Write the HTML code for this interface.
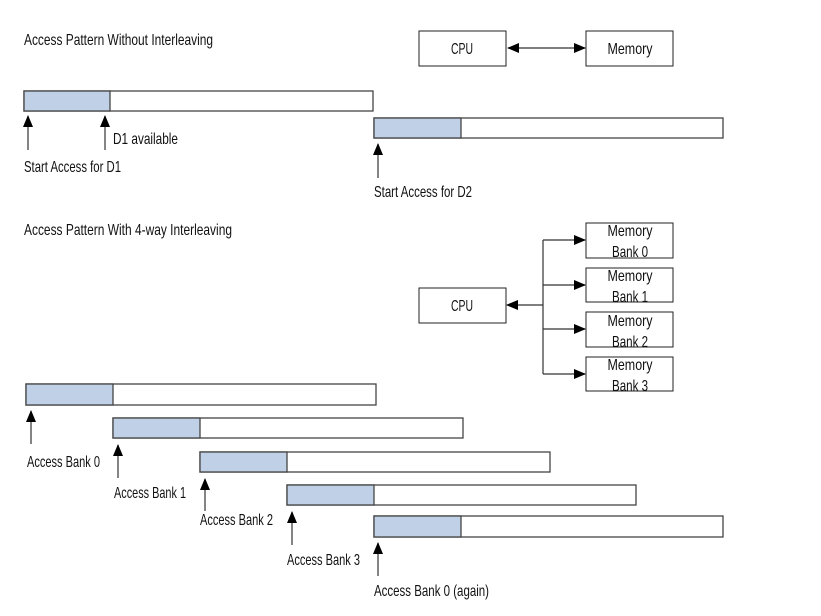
<!DOCTYPE html>
<html><head><meta charset="utf-8"><style>body{margin:0;background:#fff}svg{display:block}text{font-family:"Liberation Sans",sans-serif;font-size:16px;fill:#111}</style></head><body>
<svg width="821" height="616" xmlns="http://www.w3.org/2000/svg">
<defs><marker id="a" markerWidth="12" markerHeight="10" refX="11" refY="5" orient="auto" markerUnits="userSpaceOnUse"><path d="M0,0 L12,5 L0,10 z" fill="#000"/></marker></defs>
<g stroke="#444" stroke-width="1.3">
<rect x="24" y="91" width="349" height="20" fill="#fff"/><rect x="24" y="91" width="86" height="20" fill="#c0d0e6"/>
<rect x="374" y="118" width="349" height="20" fill="#fff"/><rect x="374" y="118" width="87" height="20" fill="#c0d0e6"/>
<rect x="26" y="384" width="350" height="21" fill="#fff"/><rect x="26" y="384" width="87" height="21" fill="#c0d0e6"/>
<rect x="113" y="418" width="350" height="20" fill="#fff"/><rect x="113" y="418" width="87" height="20" fill="#c0d0e6"/>
<rect x="200" y="452" width="350" height="20" fill="#fff"/><rect x="200" y="452" width="87" height="20" fill="#c0d0e6"/>
<rect x="287" y="485" width="349" height="20" fill="#fff"/><rect x="287" y="485" width="87" height="20" fill="#c0d0e6"/>
<rect x="374" y="516" width="349" height="21" fill="#fff"/><rect x="374" y="516" width="87" height="21" fill="#c0d0e6"/>
</g>
<g stroke="#222" stroke-width="1" fill="#fff">
<rect x="419" y="31" width="87" height="35"/><rect x="586" y="31" width="87" height="35"/>
<rect x="419" y="288" width="87" height="35"/>
<rect x="586" y="223" width="87" height="35"/><rect x="586" y="268" width="87" height="34"/>
<rect x="586" y="312" width="87" height="35"/><rect x="586" y="357" width="87" height="34"/>
</g>
<g stroke="#333" stroke-width="1.2" fill="none" marker-end="url(#a)">
<line x1="28" y1="150" x2="28" y2="116"/><line x1="105" y1="150" x2="105" y2="116"/>
<line x1="378" y1="178" x2="378" y2="144"/>
<line x1="31" y1="444" x2="31" y2="411"/><line x1="118" y1="478" x2="118" y2="445"/>
<line x1="205" y1="511" x2="205" y2="479"/><line x1="292" y1="545" x2="292" y2="512"/>
<line x1="378" y1="576" x2="378" y2="543"/>
<line x1="545" y1="48" x2="508" y2="48"/><line x1="545" y1="48" x2="585" y2="48"/>
<line x1="543" y1="305" x2="507" y2="305"/>
<line x1="543" y1="240" x2="585" y2="240"/><line x1="543" y1="285" x2="585" y2="285"/>
<line x1="543" y1="329" x2="585" y2="329"/><line x1="543" y1="374" x2="585" y2="374"/>
</g>
<line x1="543" y1="240" x2="543" y2="374" stroke="#333" stroke-width="1.2"/>
<g lengthAdjust="spacingAndGlyphs">
<text x="24" y="45" textLength="189" lengthAdjust="spacingAndGlyphs">Access Pattern Without Interleaving</text>
<text x="24" y="172" textLength="97" lengthAdjust="spacingAndGlyphs">Start Access for D1</text>
<text x="113" y="144" textLength="65" lengthAdjust="spacingAndGlyphs">D1 available</text>
<text x="374" y="197" textLength="98" lengthAdjust="spacingAndGlyphs">Start Access for D2</text>
<text x="24" y="235" textLength="208" lengthAdjust="spacingAndGlyphs">Access Pattern With 4-way Interleaving</text>
<text x="27" y="467" textLength="73" lengthAdjust="spacingAndGlyphs">Access Bank 0</text>
<text x="114" y="498" textLength="72" lengthAdjust="spacingAndGlyphs">Access Bank 1</text>
<text x="200" y="525" textLength="73" lengthAdjust="spacingAndGlyphs">Access Bank 2</text>
<text x="287" y="565" textLength="73" lengthAdjust="spacingAndGlyphs">Access Bank 3</text>
<text x="374" y="596" textLength="115" lengthAdjust="spacingAndGlyphs">Access Bank 0 (again)</text>
</g>
<g text-anchor="middle">
<text x="462" y="54" textLength="22" lengthAdjust="spacingAndGlyphs">CPU</text><text x="630" y="54" textLength="45" lengthAdjust="spacingAndGlyphs">Memory</text>
<text x="462" y="311" textLength="22" lengthAdjust="spacingAndGlyphs">CPU</text>
<text x="630" y="236" textLength="45" lengthAdjust="spacingAndGlyphs">Memory</text><text x="630" y="257" textLength="36" lengthAdjust="spacingAndGlyphs">Bank 0</text>
<text x="630" y="281" textLength="45" lengthAdjust="spacingAndGlyphs">Memory</text><text x="630" y="302" textLength="36" lengthAdjust="spacingAndGlyphs">Bank 1</text>
<text x="630" y="326" textLength="45" lengthAdjust="spacingAndGlyphs">Memory</text><text x="630" y="347" textLength="36" lengthAdjust="spacingAndGlyphs">Bank 2</text>
<text x="630" y="370" textLength="45" lengthAdjust="spacingAndGlyphs">Memory</text><text x="630" y="391" textLength="36" lengthAdjust="spacingAndGlyphs">Bank 3</text>
</g>
</svg>
</body></html>
